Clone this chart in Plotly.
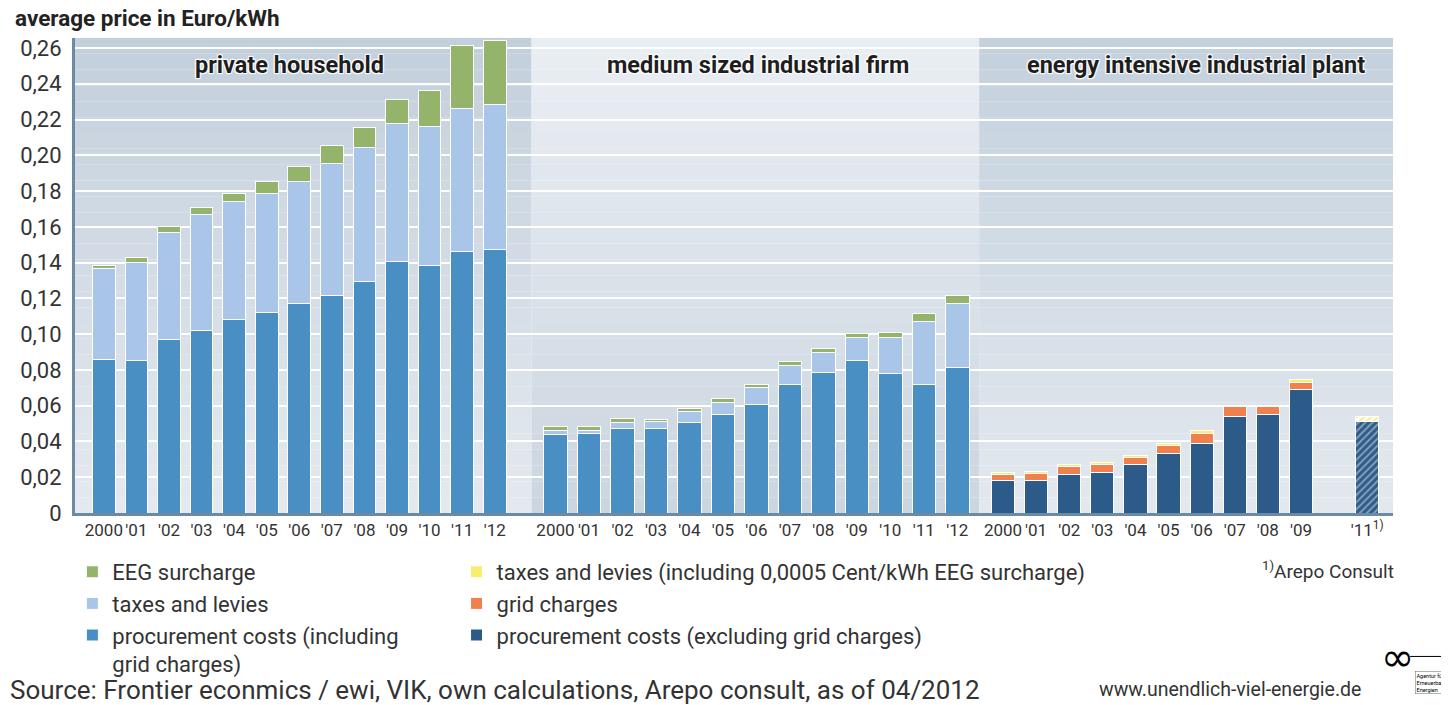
import plotly.graph_objects as go
from plotly.subplots import make_subplots

# categories
years = ["2000", "'01", "'02", "'03", "'04", "'05", "'06", "'07", "'08", "'09", "'10", "'11", "'12"]
plant_years = ["2000", "'01", "'02", "'03", "'04", "'05", "'06", "'07", "'08", "'09"]
plant_est_year = ["'11"]

# private household (Euro/kWh)
hh_procurement = [0.0861, 0.0855, 0.0969, 0.1021, 0.1081, 0.1120, 0.1170, 0.1217, 0.1295, 0.1407, 0.1386, 0.1463, 0.1474]
hh_taxes = [0.0507, 0.0546, 0.0600, 0.0649, 0.0661, 0.0669, 0.0682, 0.0738, 0.0747, 0.0771, 0.0774, 0.0799, 0.0811]
hh_eeg = [0.0015, 0.0026, 0.0035, 0.0041, 0.0045, 0.0067, 0.0088, 0.0100, 0.0116, 0.0135, 0.0201, 0.0352, 0.0355]

# medium sized industrial firm
firm_procurement = [0.0438, 0.0443, 0.0475, 0.0470, 0.0507, 0.0550, 0.0607, 0.0719, 0.0786, 0.0850, 0.0781, 0.0716, 0.0812]
firm_taxes = [0.0022, 0.0019, 0.0032, 0.0043, 0.0058, 0.0069, 0.0094, 0.0104, 0.0112, 0.0134, 0.0203, 0.0356, 0.0360]
firm_eeg = [0.0025, 0.0023, 0.0022, 0.0011, 0.0022, 0.0022, 0.0020, 0.0023, 0.0023, 0.0022, 0.0028, 0.0042, 0.0045]

# energy intensive industrial plant
plant_procurement = [0.0179, 0.0184, 0.0216, 0.0227, 0.0270, 0.0330, 0.0390, 0.0540, 0.0550, 0.0689]
plant_grid = [0.0037, 0.0038, 0.0045, 0.0043, 0.0039, 0.0046, 0.0057, 0.0053, 0.0043, 0.0042]
plant_taxes = [0.0011, 0.0011, 0.0011, 0.0013, 0.0014, 0.0012, 0.0017, 0.0003, 0.0003, 0.0014]
plant_est_procurement = [0.0514]
plant_est_taxes = [0.0026]

y_ticks = [0, 0.02, 0.04, 0.06, 0.08, 0.10, 0.12, 0.14, 0.16, 0.18, 0.20, 0.22, 0.24, 0.26]
y_labels = ["0", "0,02", "0,04", "0,06", "0,08", "0,10", "0,12", "0,14", "0,16", "0,18", "0,20", "0,22", "0,24", "0,26"]

FONT = "Roboto"
TXT = "#333333"
AXIS = "#6b8aa6"
C_EEG = "#93b46a"
C_TAX = "#a9c5e7"
C_PROC = "#4a8fc3"
C_YEL = "#f8ed6e"
C_GRID = "#f1804f"
C_NAVY = "#2c5b89"

fig = make_subplots(rows=1, cols=3, shared_yaxes=True, horizontal_spacing=0)

bar = dict(width=0.7, marker_line=dict(color="white", width=1))

fig.add_trace(go.Bar(x=years, y=hh_procurement, name="procurement costs (including<br>grid charges)",
                     marker_color=C_PROC, legend="legend", legendgroup="pi", **bar), row=1, col=1)
fig.add_trace(go.Bar(x=years, y=hh_taxes, name="taxes and levies",
                     marker_color=C_TAX, legend="legend", legendgroup="tl", **bar), row=1, col=1)
fig.add_trace(go.Bar(x=years, y=hh_eeg, name="EEG surcharge",
                     marker_color=C_EEG, legend="legend", legendgroup="eeg", **bar), row=1, col=1)

fig.add_trace(go.Bar(x=years, y=firm_procurement, marker_color=C_PROC, legendgroup="pi",
                     showlegend=False, **bar), row=1, col=2)
fig.add_trace(go.Bar(x=years, y=firm_taxes, marker_color=C_TAX, legendgroup="tl",
                     showlegend=False, **bar), row=1, col=2)
fig.add_trace(go.Bar(x=years, y=firm_eeg, marker_color=C_EEG, legendgroup="eeg",
                     showlegend=False, **bar), row=1, col=2)

fig.add_trace(go.Bar(x=plant_years, y=plant_procurement, name="procurement costs (excluding grid charges)",
                     marker_color=C_NAVY, legend="legend2", legendgroup="pe", **bar), row=1, col=3)
fig.add_trace(go.Bar(x=plant_years, y=plant_grid, name="grid charges",
                     marker_color=C_GRID, legend="legend2", legendgroup="gc", **bar), row=1, col=3)
fig.add_trace(go.Bar(x=plant_years, y=plant_taxes,
                     name="taxes and levies (including 0,0005 Cent/kWh EEG surcharge)",
                     marker_color=C_YEL, legend="legend2", legendgroup="ty", **bar), row=1, col=3)
fig.add_trace(go.Bar(x=plant_est_year, y=plant_est_procurement, showlegend=False,
                     marker=dict(color=C_NAVY, line=dict(color="white", width=1),
                                 pattern=dict(shape="/", bgcolor="#2f5d8a", fgcolor="#dfe7f0",
                                              size=5, solidity=0.35)),
                     width=0.7), row=1, col=3)
fig.add_trace(go.Bar(x=plant_est_year, y=plant_est_taxes, showlegend=False,
                     marker=dict(color=C_YEL, line=dict(color="white", width=1),
                                 pattern=dict(shape="/", bgcolor="white", fgcolor="#f3e03a",
                                              size=5, solidity=0.5)),
                     width=0.7), row=1, col=3)


def blend(c1, c2, t):
    a = [int(c1[i:i + 2], 16) for i in (1, 3, 5)]
    b = [int(c2[i:i + 2], 16) for i in (1, 3, 5)]
    return "#%02x%02x%02x" % tuple(round(a[k] + (b[k] - a[k]) * t) for k in range(3))


# panel backgrounds (vertical gradients as stacked bands)
panel_bg = [("x", "#c3d0dc", "#e4e9ef"), ("x2", "#e9eef3", "#ccd6e0"), ("x3", "#c4d1dd", "#e2e8ee")]
n = 30
for ax, top, bottom in panel_bg:
    for i in range(n):
        fig.add_shape(type="rect", xref=ax + " domain", yref="paper", x0=0, x1=1,
                      y0=1 - (i + 1) / n, y1=1 - i / n, fillcolor=blend(top, bottom, i / (n - 1)),
                      line_width=0, layer="below")

yr = [0, 0.2656]
common_x = dict(type="category", showgrid=False, ticks="", showline=True, linecolor=AXIS, linewidth=3,
                tickangle=0, tickfont=dict(size=17, color=TXT, family=FONT), zeroline=False)
grid_y = dict(range=yr, tickvals=y_ticks, showticklabels=False, showgrid=True, gridcolor="white",
              gridwidth=2, zeroline=False, ticks="")
legend_style = dict(y=-0.08, xanchor="left", yanchor="top", traceorder="reversed", valign="top",
                    font=dict(size=22, color=TXT, family=FONT), bgcolor="rgba(0,0,0,0)")
fig.update_layout(
    xaxis=dict(domain=[0, 0.3464], range=[-0.885, 13.13], **common_x),
    xaxis2=dict(domain=[0.3464, 0.686], range=[-0.713, 12.65], **common_x),
    xaxis3=dict(domain=[0.686, 1], range=[-0.721, 11.78], categoryorder="array",
                categoryarray=plant_years + ["'10", "'11"],
                tickvals=plant_years + plant_est_year, ticktext=plant_years + ["'11<sup>1)</sup>"], **common_x),
    yaxis=dict(range=yr, tickvals=y_ticks, ticktext=y_labels, showgrid=True, gridcolor="white", gridwidth=2,
               showline=True, linecolor=AXIS, linewidth=3, zeroline=False, ticks="", ticklabelstandoff=6,
               tickfont=dict(size=22, color=TXT, family=FONT)),
    yaxis2=grid_y,
    yaxis3=grid_y,
    yaxis4=dict(range=yr, overlaying="y3", anchor="x3", side="right", tickvals=y_ticks, ticktext=y_labels,
                showgrid=False, zeroline=False, showline=False, ticks="", ticklabelstandoff=6,
                tickfont=dict(size=22, color=TXT, family=FONT)),
    barmode="stack",
    # page body keeps an 8px margin, so the figure is 8px smaller than the window
    width=1441, height=697,
    margin=dict(l=60, r=56, t=30, b=192),
    paper_bgcolor="white",
    plot_bgcolor="rgba(0,0,0,0)",
    font=dict(family=FONT, color=TXT),
    legend=dict(x=-0.002, **legend_style),
    legend2=dict(x=0.2895, **legend_style),
)

glow = "1px 1px 1px white, -1px -1px 1px white, 1px -1px 1px white, -1px 1px 1px white"
for text, xc in [("private household", 0.163), ("medium sized industrial firm", 0.5185),
                 ("energy intensive industrial plant", 0.8506)]:
    fig.add_annotation(text="<b>" + text + "</b>", xref="paper", yref="paper", x=xc, y=0.943,
                       xanchor="center", yanchor="middle", showarrow=False,
                       font=dict(size=23.5, color="#1e1e1e", family=FONT, shadow=glow))

fig.add_annotation(text="<b>average price in Euro/kWh</b>", xref="paper", yref="paper", x=-0.047, y=1.042,
                   xanchor="left", yanchor="middle", showarrow=False, font=dict(size=22.5, color="#222", family=FONT))
fig.add_annotation(text="Source: Frontier econmics / ewi, VIK, own calculations, Arepo consult, as of 04/2012",
                   xref="paper", yref="paper", x=-0.051, y=-0.3726, xanchor="left", yanchor="middle",
                   showarrow=False, font=dict(size=26, color=TXT, family=FONT))
fig.add_annotation(text="<sup>1)</sup>Arepo Consult", xref="paper", yref="paper", x=0.899, y=-0.122,
                   xanchor="left", yanchor="middle", showarrow=False, font=dict(size=19, color=TXT, family=FONT))
fig.add_annotation(text="www.unendlich-viel-energie.de", xref="paper", yref="paper", x=0.9774, y=-0.3726,
                   xanchor="right", yanchor="middle", showarrow=False, font=dict(size=19.5, color=TXT, family=FONT))
# logo
fig.add_annotation(text="∞", xref="paper", yref="paper", x=1.0035, y=-0.303, xanchor="center", yanchor="middle",
                   showarrow=False, font=dict(size=40, color="black", family="DejaVu Sans"))
fig.add_shape(type="line", xref="paper", yref="paper", x0=1.013, x1=1.041, y0=-0.302, y1=-0.302,
              line=dict(color="black", width=1))
fig.add_annotation(text="Agentur für<br>Erneuerbare<br>Energien", xref="paper", yref="paper", x=1.0165, y=-0.357,
                   xanchor="left", yanchor="middle", showarrow=False, align="left", borderwidth=0.5,
                   bordercolor="#666", borderpad=1, font=dict(size=5.5, color="black", family=FONT))

fig.write_html("out.html")
